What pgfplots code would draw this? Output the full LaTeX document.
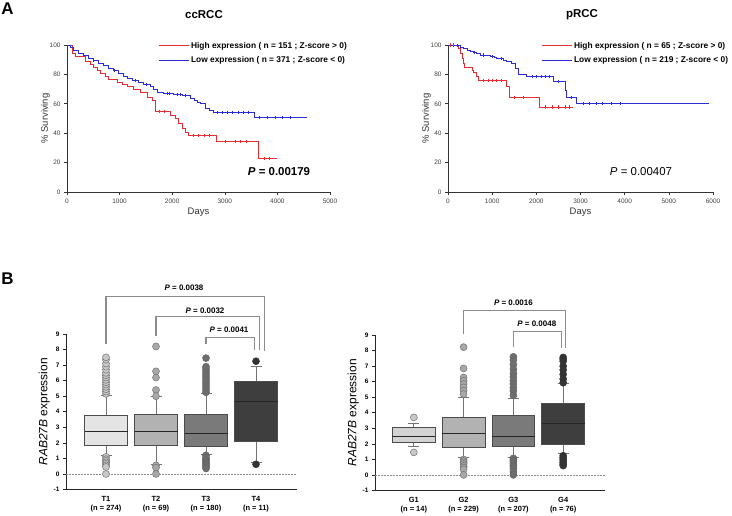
\documentclass[border=0pt]{standalone}
\usepackage{pgfplots}
\pgfplotsset{compat=1.18}
\usepgfplotslibrary{statistics}
\usepackage{fontspec}
\setmainfont{Liberation Sans}

\definecolor{kmred}{RGB}{228,44,50}
\definecolor{kmblue}{RGB}{44,44,214}
\definecolor{boxa}{RGB}{228,228,228}
\definecolor{boxb}{RGB}{178,178,178}
\definecolor{boxc}{RGB}{122,122,122}
\definecolor{boxd}{RGB}{62,62,62}
\definecolor{outa}{RGB}{200,200,200}
\definecolor{outb}{RGB}{168,168,168}
\definecolor{outc}{RGB}{110,110,110}
\definecolor{outd}{RGB}{52,52,52}
\definecolor{bracket}{RGB}{140,140,140}

\tikzset{plab/.style={font=\bfseries\fontsize{8}{9}\selectfont}}

\pgfplotsset{
  kmaxis/.style={
    scale only axis, anchor=south west, clip=false,
    axis lines=left, axis line style={-, black!80, line width=0.6bp},
    ymin=0, ymax=100, ytick={0,20,...,100},
    tick align=outside, major tick length=3bp,
    tick style={black!80, line width=0.6bp},
    ticklabel style={font=\fontsize{6.5}{7}\selectfont, text=black!75},
    /pgf/number format/assume math mode=true,
    /pgf/number format/1000 sep={},
    ylabel={\% Surviving}, xlabel={Days},
    ylabel shift=-7bp, xlabel shift=-2bp,
    label style={font=\fontsize{9.5}{11}\selectfont, text=black!80},
    legend style={draw=none, fill=none, inner sep=0pt, row sep=3bp,
      font=\bfseries\fontsize{8.4}{9}\selectfont, anchor=north west,
      cells={anchor=west}},
    legend image code/.code={\draw[#1, line width=0.9bp] plot coordinates {(0bp,0bp) (30bp,0bp)};},
  },
  boxaxis/.style={
    scale only axis, anchor=south west, clip=false,
    axis lines=left, axis line style={-, black!85, line width=0.7bp},
    ymin=-1, ymax=9, ytick={-1,0,...,9},
    xtick={1,2,3,4},
    x tick style={draw=none},
    y tick style={black!85, line width=0.6bp},
    tick align=outside, major tick length=3bp,
    yticklabel style={font=\bfseries\fontsize{6.5}{7}\selectfont},
    xticklabel style={font=\bfseries\fontsize{7.5}{9}\selectfont, align=center},
    /pgf/number format/assume math mode=true,
    ylabel={\textit{RAB27B} expression}, ylabel shift=-3bp,
    ylabel style={font=\fontsize{12}{14}\selectfont},
    boxplot/draw direction=y,
    boxplot/box extend=0.86,
    boxplot/whisker extend=0.22,
    boxplot/every whisker/.style={draw=black!55, line width=1bp},
    boxplot/every median/.style={draw=black!85, line width=1bp},
  },
  bx/.style={draw=black!70, line width=0.8bp, mark=*, mark size=3.5bp},
  br/.style={bracket, line width=1.1bp, no marks},
}

\begin{document}
\begin{tikzpicture}
\path[use as bounding box] (0bp,0bp) rectangle (732bp,516bp);

\node[font=\bfseries\fontsize{17}{17}\selectfont] at (7.5bp,507bp) {A};
\node[font=\bfseries\fontsize{17}{17}\selectfont] at (7.5bp,237.5bp) {B};
\node[font=\bfseries\fontsize{11.5}{12}\selectfont] at (204bp,501bp) {ccRCC};
\node[font=\bfseries\fontsize{11.5}{12}\selectfont] at (582bp,501bp) {pRCC};

% ccRCC survival
\begin{axis}[kmaxis, at={(67bp,324bp)}, width=263bp, height=147bp,
  xmin=0, xmax=5000, xtick={0,1000,...,5000},
  legend style={at={(0.346,1.035)}}]
\addplot[kmred, line width=0.9bp, const plot] coordinates {
  (0,100) (95,94.3) (158,92) (349,88.6) (444,87) (507,84.7) (570,82.9)
  (634,80.6) (729,78.3) (792,76.5) (951,74.4) (1046,73.3) (1141,71.5)
  (1267,69.6) (1394,67.4) (1521,64.6) (1616,62.3) (1679,55) (1964,52)
  (2060,49.8) (2123,46.3) (2186,42.9) (2250,40.6) (2313,38.4) (2846,34.2)
  (3637,22.8) (3987,22.8)};
\addlegendentry{High expression ( n = 151 ; Z-score > 0)}
\addplot[kmblue, line width=0.9bp, const plot] coordinates {
  (0,100) (60,98.5) (127,96.6) (220,94.5) (317,92.7) (410,91) (507,89.3)
  (600,87.5) (697,85.8) (790,84) (887,82.4) (980,80.5) (1077,78.8)
  (1150,77.2) (1236,76) (1350,74.8) (1458,73.3) (1584,71.9) (1650,70)
  (1711,68) (1838,66.9) (2028,66.2) (2200,65.8) (2345,63.5) (2420,62)
  (2471,61) (2528,60) (2624,57) (2700,55.5) (2782,54.3) (3561,50.5)
  (4557,50.5)};
\addlegendentry{Low expression ( n = 371 ; Z-score < 0)}
\addplot[kmred, only marks, mark=|, mark size=1.6bp, forget plot] coordinates {
  (1750,55) (1850,55) (2400,38.4) (2500,38.4) (2600,38.4) (2700,38.4)
  (3000,34.2) (3200,34.2) (3300,34.2) (3400,34.2) (3750,22.8) (3850,22.8)};
\addplot[kmblue, only marks, mark=|, mark size=1.6bp, forget plot] coordinates {
  (500,89.3) (900,82.4) (1300,76) (1500,73.3) (1900,66.9) (1950,66.9)
  (2100,66.2) (2150,66.2) (2250,65.8) (2850,54.3) (2950,54.3) (3050,54.3)
  (3150,54.3) (3250,54.3) (3350,54.3) (3450,54.3) (3650,50.5) (3800,50.5)
  (3950,50.5) (4100,50.5) (4250,50.5)};
\end{axis}

% pRCC survival
\begin{axis}[kmaxis, at={(448bp,324bp)}, width=265bp, height=147bp,
  xmin=0, xmax=6000, xtick={0,1000,...,6000},
  legend style={at={(0.351,1.035)}}]
\addplot[kmred, line width=0.9bp, const plot] coordinates {
  (0,100) (241,97.7) (279,94.3) (316,90.9) (354,87.4) (369,84.7) (543,82.9)
  (580,81) (641,78.3) (693,76) (731,75.6) (1334,71.5) (1387,64.2)
  (2065,57.8) (2841,57.8)};
\addlegendentry{High expression ( n = 65 ; Z-score > 0)}
\addplot[kmblue, line width=0.9bp, const plot] coordinates {
  (0,100) (166,99.5) (279,98.4) (350,97.5) (430,96.6) (500,95.5) (580,94.7)
  (650,94) (731,93.2) (957,92) (1050,91.3) (1108,90.9) (1250,89.5)
  (1334,88.6) (1447,87.4) (1522,84) (1598,80.1) (1786,78.3) (2389,74.9)
  (2653,69.2) (2690,64.2) (2916,60) (5912,60)};
\addlegendentry{Low expression ( n = 219 ; Z-score < 0)}
\addplot[kmred, only marks, mark=|, mark size=1.6bp, forget plot] coordinates {
  (60,100) (120,100) (800,75.6) (900,75.6) (1000,75.6) (1100,75.6)
  (1200,75.6) (1500,64.2) (1700,64.2) (2200,57.8) (2350,57.8) (2500,57.8)
  (2650,57.8) (2750,57.8)};
\addplot[kmblue, only marks, mark=|, mark size=1.6bp, forget plot] coordinates {
  (200,99.5) (600,94.7) (800,93.2) (1000,92) (1200,90.9) (1900,78.3)
  (2000,78.3) (2100,78.3) (2200,78.3) (2300,78.3) (2500,74.9) (2800,64.2)
  (3050,60) (3200,60) (3350,60) (3500,60) (3700,60) (3900,60)};
\end{axis}

\node[font=\bfseries\fontsize{11.5}{12}\selectfont] at (279bp,344bp) {\textit{P} = 0.00179};
\node[font=\fontsize{11.5}{12}\selectfont] at (641bp,344bp) {\textit{P} = 0.00407};

% T stage
\begin{axis}[boxaxis, at={(66bp,26.5bp)}, width=231bp, height=155.5bp,
  xmin=0.2, xmax=4.82,
  xticklabels={{T1\\(n = 274)},{T2\\(n = 69)},{T3\\(n = 180)},{T4\\(n = 11)}}]
\addplot[black!45, dash pattern=on 2bp off 1bp, line width=0.6bp] coordinates {(0.2,0) (4.82,0)};
\addplot[bx, fill=boxa, mark options={fill=outa, draw=black!55, line width=0.5bp},
  boxplot prepared={draw position=1, lower whisker=1.17, lower quartile=1.85,
  median=2.71, upper quartile=3.77, upper whisker=5.04}] coordinates {
  (1,5.15) (1,5.3) (1,5.45) (1,5.6) (1,5.75) (1,5.9) (1,6.05) (1,6.2)
  (1,6.35) (1,6.5) (1,6.7) (1,6.9) (1,7.1) (1,7.35) (1,7.5)
  (1,1.1) (1,0.95) (1,0.85) (1,0.75) (1,0.65) (1,0.55) (1,0.45) (1,0.0)};
\addplot[bx, fill=boxb, mark options={fill=outb, draw=black!55, line width=0.5bp},
  boxplot prepared={draw position=2, lower whisker=0.62, lower quartile=1.83,
  median=2.72, upper quartile=3.86, upper whisker=4.95}] coordinates {
  (2,8.2) (2,6.6) (2,6.2) (2,5.4) (2,5.0) (2,0.55) (2,0.4) (2,0.0)};
\addplot[bx, fill=boxc, mark options={fill=outc, draw=black!60, line width=0.5bp},
  boxplot prepared={draw position=3, lower whisker=1.24, lower quartile=1.76,
  median=2.62, upper quartile=3.80, upper whisker=5.18}] coordinates {
  (3,5.25) (3,5.4) (3,5.55) (3,5.7) (3,5.85) (3,6.0) (3,6.15) (3,6.3)
  (3,6.45) (3,6.6) (3,6.75) (3,6.9) (3,7.45)
  (3,1.2) (3,1.05) (3,0.95) (3,0.85) (3,0.75) (3,0.65) (3,0.55) (3,0.45) (3,0.35)};
\addplot[bx, fill=boxd, mark options={fill=outd, draw=black!80, line width=0.5bp},
  boxplot prepared={draw position=4, lower whisker=0.75, lower quartile=2.12,
  median=4.63, upper quartile=5.94, upper whisker=6.90}] coordinates {
  (4,7.25) (4,0.62)};
\addplot[br] coordinates {(1,8.33) (1,11.39) (4.17,11.39) (4.17,7.9)};
\addplot[br] coordinates {(2,8.87) (2,10.1) (4.07,10.1) (4.07,7.97)};
\addplot[br] coordinates {(3,8.35) (3,8.78) (3.97,8.78) (3.97,7.97)};
\node[plab] at (axis cs:2.56,11.97) {\textit{P} = 0.0038};
\node[plab] at (axis cs:2.98,10.5) {\textit{P} = 0.0032};
\node[plab] at (axis cs:3.46,9.25) {\textit{P} = 0.0041};
\end{axis}

% Grade
\begin{axis}[boxaxis, at={(375bp,25.5bp)}, width=230bp, height=155.5bp,
  xmin=0.22, xmax=4.84,
  xticklabels={{G1\\(n = 14)},{G2\\(n = 229)},{G3\\(n = 207)},{G4\\(n = 76)}}]
\addplot[black!45, dash pattern=on 2bp off 1bp, line width=0.6bp] coordinates {(0.22,0) (4.84,0)};
\addplot[bx, fill=boxa!92!black, mark options={fill=outa, draw=black!55, line width=0.5bp},
  boxplot prepared={draw position=1, lower whisker=1.82, lower quartile=2.08,
  median=2.50, upper quartile=3.03, upper whisker=3.30}] coordinates {
  (1,3.7) (1,1.45)};
\addplot[bx, fill=boxb, mark options={fill=outb, draw=black!55, line width=0.5bp},
  boxplot prepared={draw position=2, lower whisker=1.11, lower quartile=1.78,
  median=2.68, upper quartile=3.70, upper whisker=5.0}] coordinates {
  (2,8.22) (2,6.85) (2,6.27) (2,6.06) (2,5.85) (2,5.63) (2,5.42) (2,5.2)
  (2,1.0) (2,0.9) (2,0.8) (2,0.7) (2,0.58) (2,0.47) (2,0.36) (2,0.0)};
\addplot[bx, fill=boxc, mark options={fill=outc, draw=black!60, line width=0.5bp},
  boxplot prepared={draw position=3, lower whisker=1.13, lower quartile=1.84,
  median=2.50, upper quartile=3.81, upper whisker=4.9}] coordinates {
  (3,7.6) (3,7.39) (3,7.1) (3,6.8) (3,6.53) (3,6.3) (3,6.06) (3,5.85)
  (3,5.61) (3,5.4) (3,5.12)
  (3,1.07) (3,0.96) (3,0.86) (3,0.75) (3,0.64) (3,0.53) (3,0.43) (3,0.2) (3,0.0)};
\addplot[bx, fill=boxd, mark options={fill=outd, draw=black!80, line width=0.5bp},
  boxplot prepared={draw position=4, lower whisker=1.35, lower quartile=1.97,
  median=3.28, upper quartile=4.6, upper whisker=5.89}] coordinates {
  (4,7.56) (4,7.45) (4,7.32) (4,7.0) (4,6.75) (4,6.47) (4,6.17) (4,5.93)
  (4,1.24) (4,1.13) (4,1.03) (4,0.92) (4,0.81) (4,0.7) (4,0.6)};
\addplot[br] coordinates {(2,9.06) (2,10.56) (4.05,10.56) (4.05,8.18)};
\addplot[br] coordinates {(3,8.24) (3,9.23) (3.97,9.23) (3.97,8.18)};
\node[plab] at (axis cs:3.0,11.07) {\textit{P} = 0.0016};
\node[plab] at (axis cs:3.47,9.74) {\textit{P} = 0.0048};
\end{axis}
\end{tikzpicture}
\end{document}
